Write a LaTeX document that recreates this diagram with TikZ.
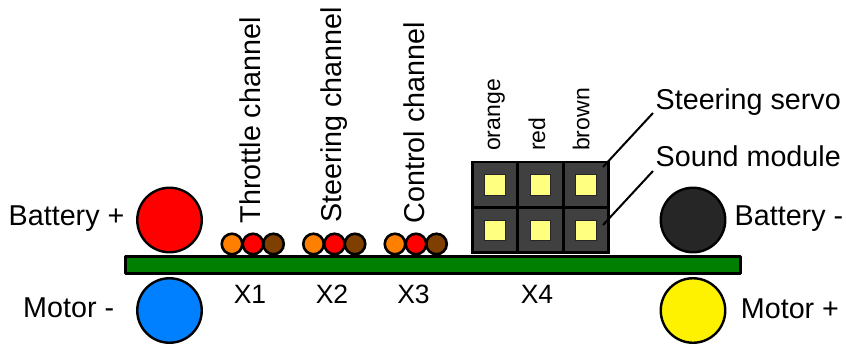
\documentclass[tikz,border=0pt]{standalone}
\usepackage{fontspec}
\setmainfont{Liberation Sans}
\definecolor{bgreen}{HTML}{007F00}
\definecolor{porange}{HTML}{FF8000}
\definecolor{pbrown}{HTML}{7F3F00}
\definecolor{mblue}{HTML}{0080FF}
\definecolor{hdr}{HTML}{404040}
\definecolor{pinY}{HTML}{FFFF80}
\definecolor{batblack}{HTML}{262626}
\tikzset{
  big/.style={circle,draw=black,line width=2.4pt,minimum size=64.5pt,inner sep=0pt},
  pin/.style={circle,draw=black,line width=2.6pt,minimum size=20.5pt,inner sep=0pt},
  cell/.style={draw=black,line width=2.2pt,fill=hdr,minimum size=45pt,inner sep=0pt},
  pad/.style={draw=black!85,line width=.9pt,fill=pinY,minimum size=20.5pt,inner sep=0pt},
  lab/.style={font=\fontsize{28.7}{32}\selectfont,inner sep=0pt,anchor=base west},
  xlab/.style={font=\fontsize{26.5}{30}\selectfont,inner sep=0pt,anchor=base},
  rot/.style={font=\fontsize{28.7}{32}\selectfont,inner sep=0pt,rotate=90,anchor=base west},
  wire/.style={font=\fontsize{23}{25}\selectfont,inner sep=0pt,rotate=90,anchor=base west},
  lead/.style={line width=2pt,draw=black}
}
\begin{document}
\begin{tikzpicture}[x=1pt,y=-1pt]
\useasboundingbox (0,0) rectangle (846,345);
\node[big,fill=red] (batp) at (169.5,220) {};
\node[big,fill=mblue] (motm) at (169.5,310.5) {};
\node[big,fill=batblack] (batm) at (693,220) {};
\node[big,fill=yellow] (motp) at (693,310.5) {};
\node[draw=black,line width=3pt,line join=round,fill=bgreen,minimum width=615pt,minimum height=17pt,inner sep=0pt] (board) at (432.5,265) {};
\foreach \n/\x in {a/232,b/313.5,c/395}{
  \node[pin,fill=porange] (\n o) at (\x,244) {};
  \node[pin,fill=pbrown] (\n b) at (\x+41.5,244) {};
  \node[pin,fill=red] (\n r) at (\x+21,244) {};
}
\foreach \n/\x in {1/495,2/540.5,3/586}{
  \foreach \m/\y in {t/184.5,u/230}{
    \node[cell] (c\n\m) at (\x,\y) {};
    \node[pad] (p\n\m) at (\x,\y+.5) {};
  }
}
\node[lab] (tbatp) at (8.5,225) {Battery +};
\node[lab] (tmotm) at (23,317) {Motor -};
\node[lab] (tbatm) at (734.5,225) {Battery -};
\node[lab] (tmotp) at (740.7,318) {Motor +};
\node[xlab] (x1) at (250,303) {X1};
\node[xlab] (x2) at (332,303) {X2};
\node[xlab] (x3) at (413.5,303) {X3};
\node[xlab] (x4) at (537,303) {X4};
\node[rot] (tc) at (260.7,223.5) {Throttle channel};
\node[rot] (sc) at (341.7,222.5) {Steering channel};
\node[rot] (cc) at (424,223.5) {Control channel};
\node[wire] (wo) at (500,151) {orange};
\node[wire] (wr) at (545,151) {red};
\node[wire] (wb) at (589.3,151) {brown};
\node[lab] (ss) at (655.5,109.5) {Steering servo};
\node[lab] (sm) at (655.5,166.7) {Sound module};
\coordinate (ssend) at (653,113);
\coordinate (smend) at (653,171);
\coordinate (ssstart) at (603,167);
\coordinate (smstart) at (603,225);
\draw[lead] (ssstart) -- (ssend);
\draw[lead] (smstart) -- (smend);
\end{tikzpicture}
\end{document}
